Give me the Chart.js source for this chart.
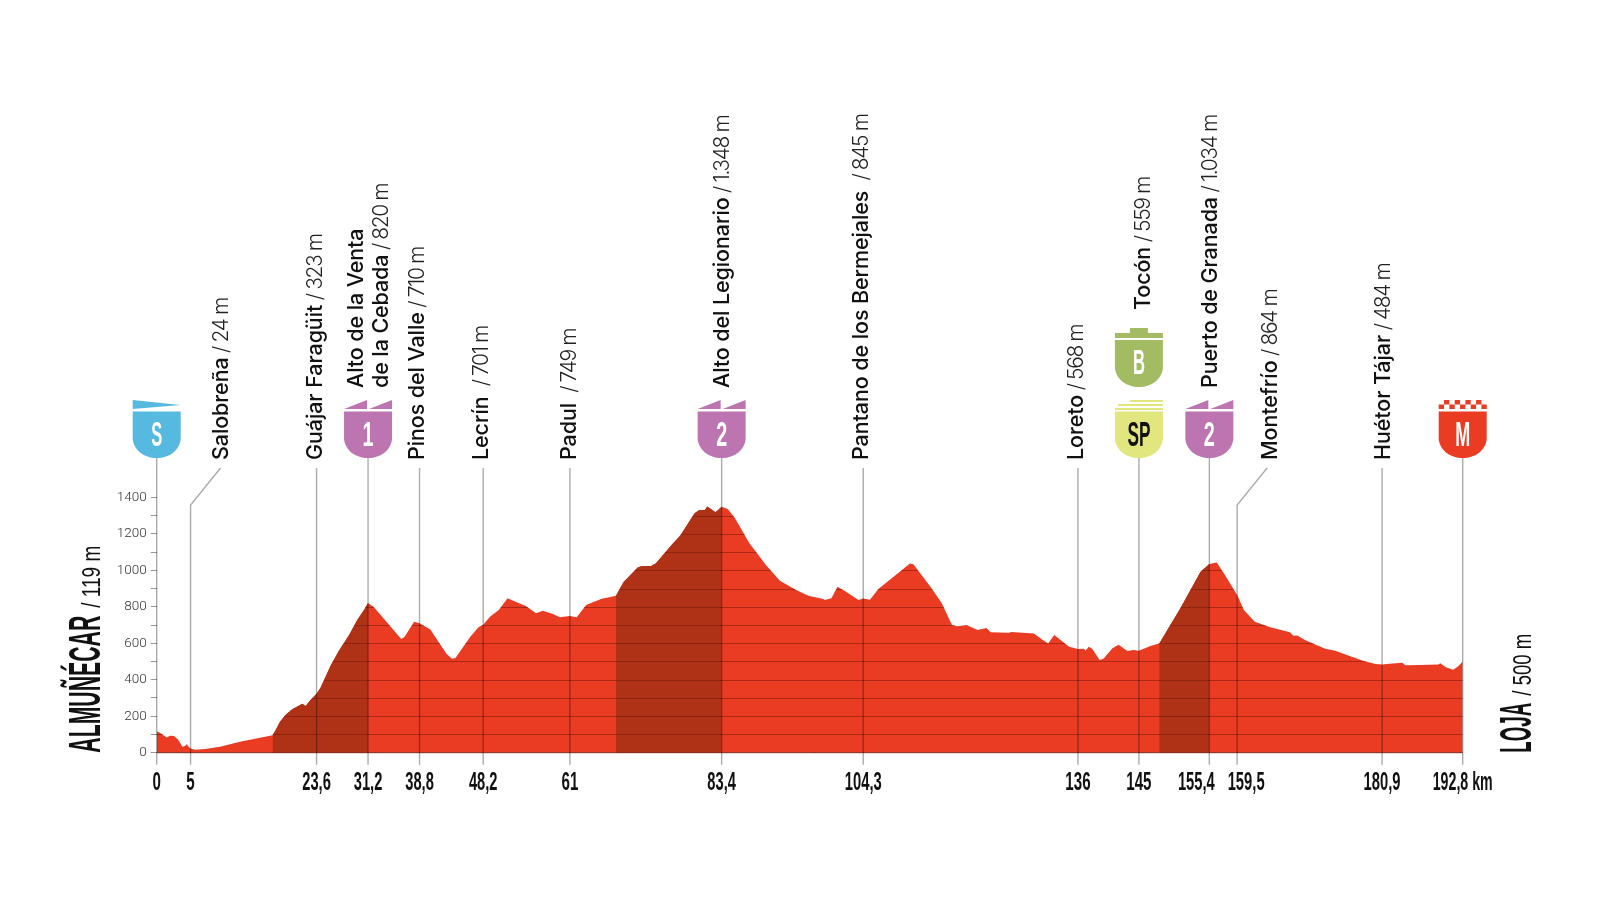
<!DOCTYPE html>
<html>
<head>
<meta charset="utf-8">
<title>Almuñécar - Loja</title>
<script src="https://cdn.jsdelivr.net/npm/chart.js@4"></script>
<style>
  html, body { margin: 0; padding: 0; background: #fff; }
  #wrap { width: 1600px; height: 900px; }
</style>
</head>
<body>
<div id="wrap"><canvas id="profile" width="1600" height="900"></canvas></div>
<script>
// profile
const km = [0, 0.74, 1.48, 1.97, 2.56, 3.2, 3.79, 4.18, 4.43, 4.92, 5.66, 7.14, 9.35, 12.3, 17.1, 17.56, 18.2, 19, 20, 21.5, 22, 22.7, 23.6, 24.2, 25.7, 26.9, 28.4, 29.6, 30.6, 31.2, 32, 33, 36.1, 36.6, 38, 38.8, 40.4, 41.1, 42.8, 43.6, 44.1, 46.3, 47.5, 48.2, 49.2, 50.5, 51.8, 52.7, 54.5, 56, 57, 58.5, 59.5, 61, 62, 63.4, 64.2, 65.7, 66.8, 67.8, 68.9, 71, 71.5, 73, 73.7, 76, 77.3, 79.4, 80.1, 80.9, 81.3, 82.5, 83.4, 84.3, 85.3, 87.5, 90, 92, 94.4, 96.2, 98.4, 98.6, 99.6, 100.5, 101.6, 103.6, 104.3, 105.3, 106.5, 111.2, 111.7, 114.2, 115.9, 117.4, 118.2, 119.6, 121.2, 122.5, 123.1, 125.8, 126.2, 129.5, 130.7, 131.6, 132.5, 134.7, 136, 136.9, 137.1, 137.6, 138.1, 139.2, 139.8, 141.1, 142, 143.3, 144.2, 145, 146.7, 148, 151.1, 154.1, 155.4, 156.5, 158, 159.5, 160.5, 162.1, 164.4, 167.3, 167.8, 168.4, 169.5, 172.5, 174, 175.7, 178.2, 179.9, 180.9, 182, 183.9, 184.3, 186.5, 189.2, 189.5, 190.3, 191.4, 192.1, 192.8];
const elevation = [119, 102, 84, 93, 91, 69, 33, 37, 46, 24, 16, 20, 33, 60, 95, 124, 170, 206, 238, 269, 256, 289, 323, 358, 480, 559, 645, 727, 782, 820, 800, 758, 623, 636, 718, 710, 676, 636, 541, 515, 519, 636, 687, 701, 745, 782, 846, 831, 804, 764, 778, 760, 742, 749, 742, 809, 822, 844, 852, 861, 934, 1015, 1022, 1024, 1038, 1139, 1190, 1313, 1331, 1331, 1349, 1318, 1348, 1336, 1289, 1148, 1026, 942, 892, 861, 843, 837, 847, 909, 887, 837, 845, 839, 896, 1037, 1033, 911, 819, 700, 693, 698, 672, 683, 660, 658, 662, 654, 621, 598, 645, 581, 568, 570, 559, 581, 570, 508, 517, 572, 592, 557, 563, 559, 585, 599, 791, 992, 1034, 1042, 956, 864, 782, 718, 687, 660, 641, 643, 618, 570, 559, 535, 503, 486, 484, 488, 493, 479, 481, 483, 490, 468, 455, 472, 500];

// climbs, darker part of the profile
const climbStart = [17.1, 67.8, 148];
const climbEnd = [31.2, 83.4, 155.4];

// stops along the stage
const stopKm = [0, 5, 23.6, 31.2, 38.8, 48.2, 61, 83.4, 104.3, 136, 145, 155.4, 159.5, 180.9, 192.8];
const stopTicks = ['0', '5', '23,6', '31,2', '38,8', '48,2', '61', '83,4', '104,3', '136', '145', '155,4', '159,5', '180,9', '192,8 km'];
const stopNames = ['', 'Salobreña', 'Guájar Faragüit', 'de la Cebada', 'Pinos del Valle', 'Lecrín ', 'Padul ', 'Alto del Legionario', 'Pantano de los Bermejales ', 'Loreto', 'Tocón', 'Puerto de Granada', 'Montefrío', 'Huétor Tájar', ''];
const stopHeights = ['', '24 m', '323 m', '820 m', '710 m', '701 m', '749 m', '1.348 m', '845 m', '568 m', '559 m', '1.034 m', '864 m', '484 m', ''];
const stopBadges = ['S', '', '', '1', '', '', '', '2', '', '', 'SP', '2', '', '', 'M'];

const RED = '#E93C23';
const DARK = '#AF3217';
const CAT = '#BC75B0';
const NAME_FONT = '500 21.5px Inter';
const SUB_FONT = '300 21px Inter';
const NARROW = '"Liberation Sans Narrow", "Liberation Sans"';

// small sideways nudges of the place names, px
const nameNudge = { 5: -1, 23.6: -2.5, 38.8: -4, 48.2: -3, 61: -2, 83.4: -1, 104.3: -3, 136: -3, 159.5: 2 };

function zip(xs, ys) {
    return xs.map((x, i) => ({ x: x, y: ys[i] }));
}

function climbPoints(from, to) {
    return zip(km, elevation).filter(p => p.x >= from && p.x <= to);
}

// condensed text: squeeze the narrow font so it gets the width we want
function squeezed(ctx, text, x, y, font, width, align) {
    ctx.save();
    ctx.font = font;
    let w = ctx.measureText(text).width;
    let dx = align === 'center' ? -width / 2 : 0;
    ctx.translate(x + dx, y);
    ctx.scale(width / w, 1);
    ctx.textAlign = 'left';
    ctx.textBaseline = 'alphabetic';
    ctx.fillText(text, 0, 0);
    ctx.restore();
}

function shieldBody(ctx, cx, top, bottom, color) {
    let l = cx - 24, r = cx + 24;
    ctx.fillStyle = color;
    ctx.beginPath();
    ctx.moveTo(l, top);
    ctx.lineTo(r, top);
    ctx.lineTo(r, bottom - 19);
    ctx.bezierCurveTo(r - 1, bottom - 8, cx + 13, bottom, cx, bottom);
    ctx.bezierCurveTo(cx - 13, bottom, l + 1, bottom - 8, l, bottom - 19);
    ctx.closePath();
    ctx.fill();
}

function drawBadge(ctx, cx, badge) {
    let top = 400;
    if (badge === 'S') {
        ctx.fillStyle = '#56B9E0';
        ctx.beginPath();
        ctx.moveTo(cx - 24, top);
        ctx.lineTo(cx + 24, top + 5);
        ctx.lineTo(cx - 24, top + 9);
        ctx.fill();
        shieldBody(ctx, cx, top + 11.5, top + 58, '#56B9E0');
    } else if (badge === 'SP') {
        ctx.fillStyle = '#E2E67F';
        ctx.fillRect(cx - 9, top, 33, 2);
        ctx.fillRect(cx - 21, top + 4, 45, 2);
        ctx.fillRect(cx - 24, top + 8, 48, 2);
        shieldBody(ctx, cx, top + 11.5, top + 58, '#E2E67F');
    } else if (badge === 'M') {
        ctx.fillStyle = RED;
        for (let i = 0; i < 9; i++) {
            ctx.fillRect(cx - 24 + i * 5.34, top + (i % 2 ? 0 : 4.5), 5.34, 4.5);
        }
        shieldBody(ctx, cx, top + 11.5, top + 58, RED);
    } else {
        ctx.fillStyle = CAT;
        ctx.beginPath();
        ctx.moveTo(cx - 24, top + 9);
        ctx.lineTo(cx - 1, top);
        ctx.lineTo(cx - 1, top + 9);
        ctx.closePath();
        ctx.moveTo(cx + 1, top + 9);
        ctx.lineTo(cx + 24, top);
        ctx.lineTo(cx + 24, top + 9);
        ctx.closePath();
        ctx.fill();
        shieldBody(ctx, cx, top + 11.5, top + 58, CAT);
    }
    ctx.fillStyle = badge === 'SP' ? '#111' : '#fff';
    let w = badge === 'SP' ? 23 : (badge === 'M' ? 15 : 11);
    squeezed(ctx, badge, cx, top + 46, 'bold 35px ' + NARROW, w, 'center');
}

function drawBonus(ctx, cx) {
    let top = 328;
    ctx.fillStyle = '#A3BC63';
    ctx.fillRect(cx - 9, top, 18, 5);
    ctx.fillRect(cx - 24, top + 5, 48, 5);
    shieldBody(ctx, cx, top + 12, top + 59, '#A3BC63');
    ctx.fillStyle = '#fff';
    squeezed(ctx, 'B', cx, top + 46, 'bold 35px ' + NARROW, 12, 'center');
}

// name in medium, altitude in light, running upwards
function drawName(ctx, x, yBottom, name, height) {
    ctx.save();
    ctx.translate(x, yBottom);
    ctx.rotate(-Math.PI / 2);
    ctx.textAlign = 'left';
    ctx.textBaseline = 'alphabetic';
    ctx.fillStyle = '#111';
    ctx.font = NAME_FONT;
    ctx.letterSpacing = '-0.1px';
    ctx.fillText(name, 0, 0);
    let w = ctx.measureText(name).width;
    ctx.font = SUB_FONT;
    ctx.fillStyle = '#222';
    ctx.letterSpacing = '-1.4px';
    ctx.fillText(' / ' + height, w, 0);
    ctx.letterSpacing = '0px';
    ctx.restore();
}

const profileOverlay = {
    id: 'profileOverlay',
    afterDatasetsDraw(chart) {
        const ctx = chart.ctx;
        const xs = chart.scales.x;
        const ys = chart.scales.y;
        const base = ys.getPixelForValue(0);

        // height lines, only inside the profile
        ctx.save();
        ctx.beginPath();
        ctx.moveTo(xs.getPixelForValue(km[0]), base);
        km.forEach((k, i) => ctx.lineTo(xs.getPixelForValue(k), ys.getPixelForValue(elevation[i])));
        ctx.lineTo(xs.getPixelForValue(km[km.length - 1]), base);
        ctx.closePath();
        ctx.clip();
        ctx.strokeStyle = 'rgba(110,20,5,0.5)';
        ctx.lineWidth = 1;
        for (let v = 100; v <= 1400; v += 100) {
            let y = Math.round(ys.getPixelForValue(v)) + 0.5;
            ctx.beginPath();
            ctx.moveTo(xs.left, y);
            ctx.lineTo(xs.right, y);
            ctx.stroke();
        }
        ctx.restore();

        // base line
        ctx.strokeStyle = '#7A2010';
        ctx.lineWidth = 1;
        ctx.beginPath();
        ctx.moveTo(xs.left, base);
        ctx.lineTo(xs.right, base);
        ctx.stroke();

        // stop lines, multiply so they go gray on white and dark on the red
        ctx.save();
        ctx.globalCompositeOperation = 'multiply';
        ctx.strokeStyle = '#ABABAB';
        ctx.lineWidth = 1.4;
        stopKm.forEach((k, i) => {
            let x = xs.getPixelForValue(k);
            let top = stopBadges[i] ? 458 : 468;
            ctx.beginPath();
            ctx.moveTo(x, base + 12);
            if (k === 5 || k === 159.5) {
                ctx.lineTo(x, 505);
                ctx.lineTo(x + 30, 468);
            } else {
                ctx.lineTo(x, top);
            }
            ctx.stroke();
        });
        ctx.restore();

        // km labels
        ctx.fillStyle = '#111';
        stopKm.forEach((k, i) => {
            let x = xs.getPixelForValue(k);
            if (k === 155.4) x -= 13;
            if (k === 159.5) x += 9;
            let digits = stopTicks[i].length - (stopTicks[i].includes(',') ? 0.6 : 0);
            let w = k === 192.8 ? 60 : digits * 8.4;
            squeezed(ctx, stopTicks[i], x, 790, 'bold 25px ' + NARROW, w, 'center');
        });

        // badges
        stopKm.forEach((k, i) => {
            if (stopBadges[i]) drawBadge(ctx, xs.getPixelForValue(k), stopBadges[i]);
        });
        drawBonus(ctx, xs.getPixelForValue(145));

        // place names
        stopKm.forEach((k, i) => {
            if (!stopNames[i]) return;
            let x = xs.getPixelForValue(k) + 8 + (nameNudge[k] || 0);
            let yBottom = 460;
            if (stopBadges[i] && k !== 145) yBottom = 388;
            if (k === 145) { yBottom = 310; x += 3; }
            if (k === 5 || k === 159.5) x += 30;
            if (k === 31.2) {
                x += 12;
                ctx.save();
                ctx.translate(x - 25, yBottom);
                ctx.rotate(-Math.PI / 2);
                ctx.fillStyle = '#111';
                ctx.font = NAME_FONT;
                ctx.letterSpacing = '-0.1px';
                ctx.fillText('Alto de la Venta', 0, 0);
                ctx.letterSpacing = '0px';
                ctx.restore();
            }
            drawName(ctx, x, yBottom, stopNames[i], stopHeights[i]);
        });

        // start and finish towns
        ctx.fillStyle = '#111';
        ctx.save();
        ctx.translate(100, 752.7);
        ctx.rotate(-Math.PI / 2);
        squeezed(ctx, 'ALMUÑÉCAR', 0, 0, 'bold 44px ' + NARROW, 137);
        squeezed(ctx, '/ 119 m', 145, 0, '25px ' + NARROW, 62);
        ctx.restore();
        ctx.save();
        ctx.translate(1530.5, 752.7);
        ctx.rotate(-Math.PI / 2);
        squeezed(ctx, 'LOJA', 0, 0, 'bold 44px ' + NARROW, 50);
        squeezed(ctx, '/ 500 m', 57, 0, '25px ' + NARROW, 62);
        ctx.restore();
    }
};

const datasets = [{
    data: zip(km, elevation),
    backgroundColor: RED,
    borderWidth: 0,
    pointRadius: 0,
    tension: 0,
    fill: 'origin',
    order: 2
}];
climbStart.forEach((from, i) => {
    datasets.push({
        data: climbPoints(from, climbEnd[i]),
        backgroundColor: DARK,
        borderWidth: 0,
        pointRadius: 0,
        tension: 0,
        fill: 'origin',
        order: 1
    });
});

var chart = new Chart(document.getElementById('profile'), {
    type: 'line',
    data: { datasets: datasets },
    plugins: [profileOverlay],
    options: {
        responsive: false,
        animation: false,
        devicePixelRatio: 1,
        layout: { padding: { top: 497.3, right: 137.3, left: 0, bottom: 0 } },
        plugins: { legend: { display: false }, tooltip: { enabled: false } },
        scales: {
            x: {
                type: 'linear',
                min: 0,
                max: 192.8,
                grid: { display: false },
                border: { display: false },
                ticks: { display: false },
                afterFit(scale) { scale.height = 147.3; }
            },
            y: {
                min: 0,
                max: 1400,
                afterFit(scale) { scale.width = 156.7; },
                border: { display: false },
                grid: {
                    drawOnChartArea: false,
                    tickLength: 6,
                    color: '#999999'
                },
                ticks: {
                    stepSize: 100,
                    autoSkip: false,
                    padding: 4,
                    color: '#333333',
                    font: { family: 'Roboto', weight: '300', size: 13.5 },
                    callback: v => (v % 200 === 0 ? String(v) : '')
                }
            }
        }
    }
});
</script>
</body>
</html>
